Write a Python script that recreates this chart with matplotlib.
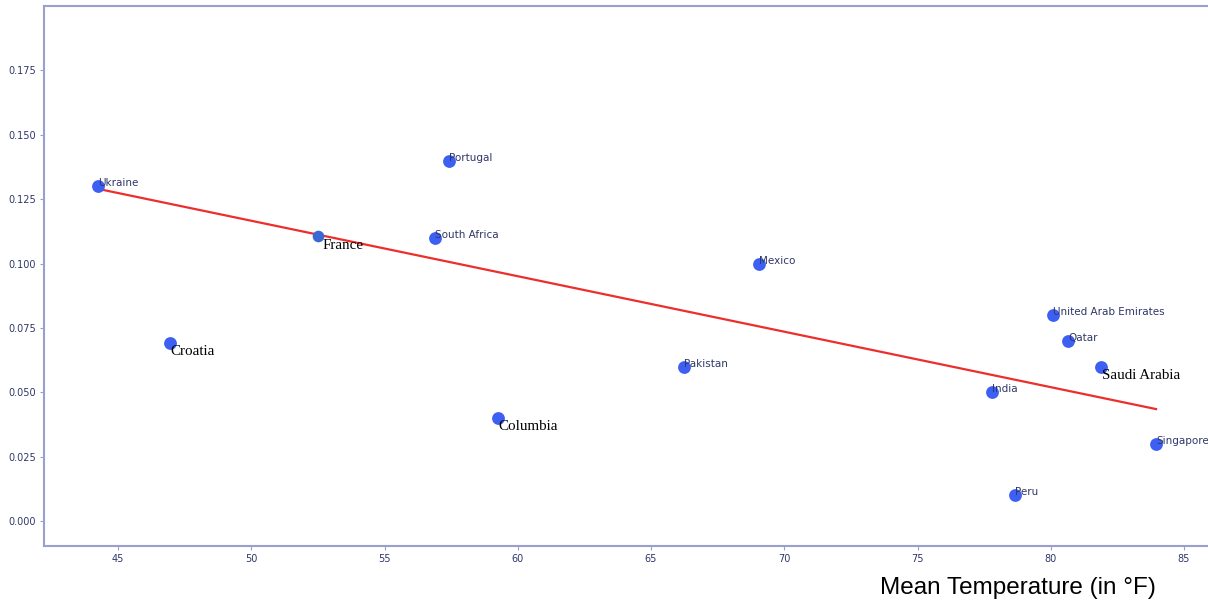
import numpy as np
import matplotlib.pyplot as plt

# Mean temperature (F) vs rate, one point per country
countries = ['Ukraine', 'Croatia', 'France', 'Portugal', 'South Africa', 'Columbia',
             'Pakistan', 'Mexico', 'United Arab Emirates', 'Qatar', 'Saudi Arabia',
             'India', 'Singapore', 'Peru']
mean_temp = [44.25, 46.95, 52.5, 57.4, 56.9, 59.25, 66.25, 69.05, 80.1, 80.65, 81.9,
             77.8, 83.95, 78.65]
rate = [0.130, 0.069, 0.1105, 0.140, 0.110, 0.040, 0.060, 0.100, 0.080, 0.070, 0.060,
        0.050, 0.030, 0.010]

# countries whose labels are set in a serif face below the point
serif_labels = ['Croatia', 'France', 'Columbia', 'Saudi Arabia']

# fitted trend line
trend_slope = -0.002154
trend_intercept = 0.2243

spine_col = '#9aa0cc'
tick_col = '#2e3768'

fig = plt.figure(figsize=(12.08, 6.02), dpi=100)
ax = fig.add_axes([44 / 1208, 56 / 602, 1 - 44 / 1208, 540 / 602])

x = np.array(mean_temp)
y = np.array(rate)

for name, xi, yi in zip(countries, x, y):
    if name == 'France':
        ax.scatter(xi, yi, s=70, color='#3b68d4', zorder=3, linewidths=0)
    else:
        ax.scatter(xi, yi, s=85, color='#3d5ff2', zorder=3, linewidths=0)

tx = np.array([x.min(), x.max()])
ax.plot(tx, trend_intercept + trend_slope * tx, color='#ec2f2b', lw=1.6, zorder=2)

for name, xi, yi in zip(countries, x, y):
    if name in serif_labels:
        dx = 3 if name == 'France' else 0.5
        ax.annotate(name, (xi, yi), xytext=(dx, -1.5), textcoords='offset points',
                    fontsize=10.8, family='Liberation Serif', color='black',
                    ha='left', va='top', zorder=4)
    else:
        ax.annotate(name, (xi, yi), xytext=(0, 0), textcoords='offset points',
                    fontsize=7.5, color=tick_col, ha='left', va='baseline', zorder=4)

ax.set_xlim(42.22, 85.9)
ax.set_ylim(-0.0097, 0.2)
ax.set_xticks([45, 50, 55, 60, 65, 70, 75, 80, 85])
ax.set_yticks([0.0, 0.025, 0.05, 0.075, 0.1, 0.125, 0.15, 0.175])
ax.set_yticklabels([f'{v:.3f}' for v in ax.get_yticks()])

for side in ['left', 'bottom', 'top']:
    ax.spines[side].set_color(spine_col)
    ax.spines[side].set_linewidth(1.5)
ax.spines['right'].set_visible(False)
ax.tick_params(labelsize=7, colors=tick_col, length=3, width=0.8, pad=3)
ax.tick_params(color=spine_col)

fig.text(1018 / 1208, 1 - 588 / 602, 'Mean Temperature (in °F)', ha='center', va='center',
         fontsize=17.5, family='Liberation Sans', color='black')

fig.savefig('out.png', dpi=100)
